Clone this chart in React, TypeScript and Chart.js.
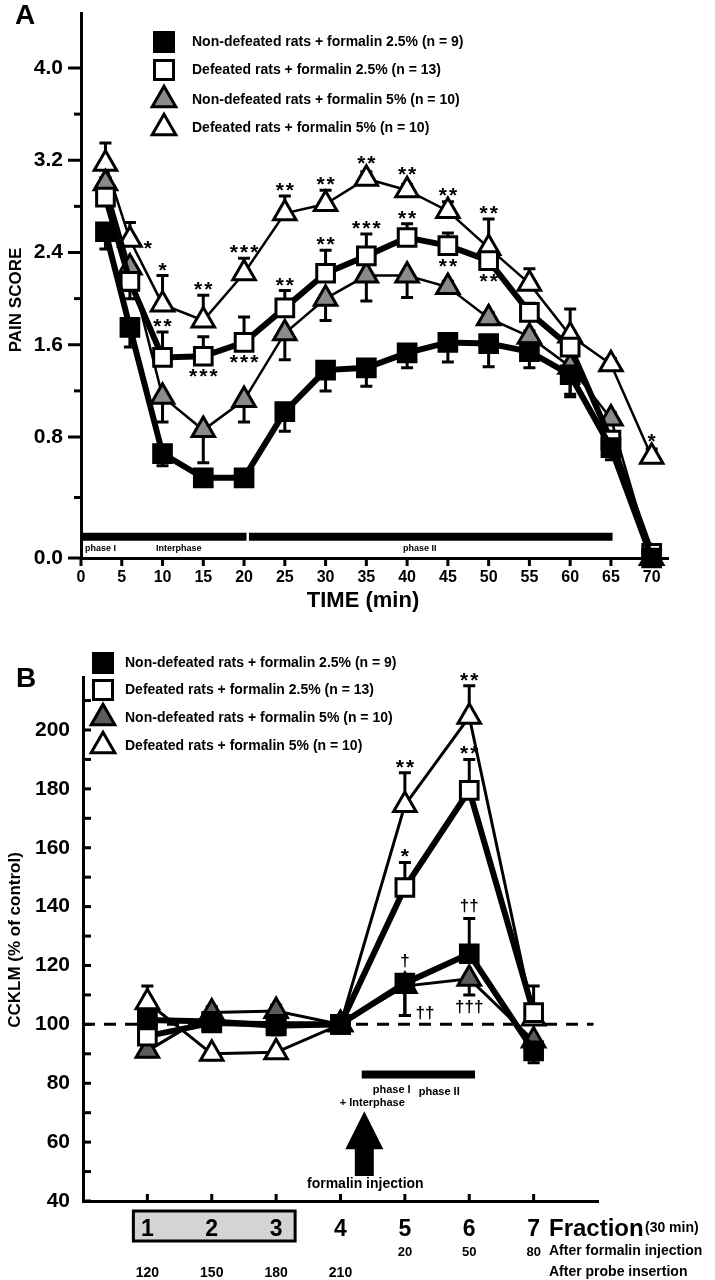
import React, { useEffect, useRef } from 'react';
import { Chart, registerables, LinearScale } from 'chart.js';

// Linear scale with a knee: the segment below `knee` gets its own share of the axis height
class KneeScale extends LinearScale {
  static id = 'knee';
  static defaults: any = { ...(LinearScale as any).defaults };
  kneePixel(): number {
    const o: any = this.options;
    return this.bottom - o.kneeFraction * (this.bottom - this.top);
  }
  getPixelForValue(value: number): number {
    const o: any = this.options;
    const kp = this.kneePixel();
    if (value >= o.knee) return kp - ((value - o.knee) / (this.max - o.knee)) * (kp - this.top);
    return this.bottom - ((value - this.min) / (o.knee - this.min)) * (this.bottom - kp);
  }
  getValueForPixel(pixel: number): number {
    const o: any = this.options;
    const kp = this.kneePixel();
    if (pixel <= kp) return o.knee + ((kp - pixel) / (kp - this.top)) * (this.max - o.knee);
    return this.min + ((this.bottom - pixel) / (this.bottom - kp)) * (o.knee - this.min);
  }
}

Chart.register(...registerables, KneeScale);

const FONT = '"Liberation Sans", Arial, Helvetica, sans-serif';
const GRAY_A = '#8a8a8a';
const GRAY_B = '#5c5c5c';

// ================= Panel A : pain score =================
const aTime = [3, 6, 10, 15, 20, 25, 30, 35, 40, 45, 50, 55, 60, 65, 70];
const aXTicks = [0, 5, 10, 15, 20, 25, 30, 35, 40, 45, 50, 55, 60, 65, 70];
const aYTicks = [0, 0.4, 0.8, 1.2, 1.6, 2.0, 2.4, 2.8, 3.2, 3.6, 4.0];
const aYLabels = ['0.0', '', '0.8', '', '1.6', '', '2.4', '', '3.2', '', '4.0'];

const aNonDef25 = [2.58, 1.75, 0.69, 0.53, 0.53, 1.02, 1.38, 1.40, 1.53, 1.62, 1.61, 1.54, 1.34, 0.73, 0.0];
const aNonDef25Sem = [-0.15, -0.17, -0.08, -0.05, -0.05, -0.17, -0.18, -0.16, -0.13, -0.17, -0.2, -0.14, -0.19, -0.08, 0];
const aDef25 = [2.88, 2.15, 1.49, 1.5, 1.62, 1.92, 2.22, 2.37, 2.53, 2.46, 2.33, 1.88, 1.58, 0.78, 0.03];
const aDef25Sem = [0.05, -0.15, 0.22, 0.17, 0.22, 0.15, 0.2, 0.19, 0.12, 0.11, 0.1, 0.08, 0.1, -0.1, 0];
const aNonDef5 = [3.0, 2.27, 1.15, 0.86, 1.12, 1.7, 2.0, 2.2, 2.2, 2.1, 1.83, 1.67, 1.41, 0.96, 0.0];
const aNonDef5Sem = [0.05, -0.2, -0.22, -0.23, -0.19, -0.23, -0.19, -0.22, -0.19, 0.05, 0.05, 0.05, -0.24, 0.05, 0];
const aDef5 = [3.17, 2.51, 1.95, 1.81, 2.22, 2.74, 2.82, 3.04, 2.94, 2.76, 2.44, 2.13, 1.68, 1.43, 0.67];
const aDef5Sem = [0.18, 0.15, 0.25, 0.22, 0.13, 0.15, 0.12, 0.06, 0.05, 0.08, 0.25, 0.13, 0.23, 0.05, 0.05];

type Mark = { i: number; text: string; side: 'above' | 'below' | 'right' | 'belowRight' };
const aDef5Marks: Mark[] = [
  { i: 1, text: '*', side: 'right' },
  { i: 2, text: '*', side: 'above' },
  { i: 3, text: '**', side: 'above' },
  { i: 4, text: '***', side: 'above' },
  { i: 5, text: '**', side: 'above' },
  { i: 6, text: '**', side: 'above' },
  { i: 7, text: '**', side: 'above' },
  { i: 8, text: '**', side: 'above' },
  { i: 9, text: '**', side: 'above' },
  { i: 10, text: '**', side: 'above' },
  { i: 14, text: '*', side: 'above' },
];
const aDef25Marks: Mark[] = [
  { i: 2, text: '**', side: 'above' },
  { i: 3, text: '***', side: 'below' },
  { i: 4, text: '***', side: 'below' },
  { i: 5, text: '**', side: 'above' },
  { i: 6, text: '**', side: 'above' },
  { i: 7, text: '***', side: 'above' },
  { i: 8, text: '**', side: 'above' },
  { i: 9, text: '**', side: 'below' },
  { i: 10, text: '**', side: 'below' },
];
// phase bar segments (minutes) and labels
const aPhaseBars = [[0, 20.3], [20.6, 65.2]];
const aPhaseY = 0.14;
const aPhaseLabels = [
  { t: 'phase I', x: 0.5 },
  { t: 'Interphase', x: 9.2 },
  { t: 'phase II', x: 39.5 },
];

// ================= Panel B : CCKLM =================
const bFraction = [1, 2, 3, 4, 5, 6, 7];
const bYTicks = [40, 50, 60, 70, 80, 90, 100, 110, 120, 130, 140, 150, 160, 170, 180, 190, 200, 210];
const bFracLabels = ['1', '2', '3', '4', '5', '6', '7'];
const bAfterInjection = ['', '', '', '', '20', '50', '80'];
const bAfterProbe = ['120', '150', '180', '210', '', '', ''];

const bNonDef25 = [101.5, 101, 99.5, 100, 114, 124, 91];
const bNonDef25Sem = [3, 3, -3, 2, -11, 12, -4];
const bDef25 = [96, 100.5, 100, 100, 146.5, 179.5, 104];
const bDef25Sem = [-4, 2, 2, 2, 8.5, 10.5, 9];
const bNonDef5 = [91, 104, 104.5, 100, 113, 115.5, 94.5];
const bNonDef5Sem = [-2, 2, 2, 2, -10, -5.5, -3];
const bDef5 = [107.5, 90, 90.5, 100, 174.5, 204.5, 102];
const bDef5Sem = [5.5, -2, -2, 2, 11, 10.5, 2];

const bDef5Marks: Mark[] = [
  { i: 4, text: '**', side: 'above' },
  { i: 5, text: '**', side: 'above' },
];
const bDef25Marks: Mark[] = [
  { i: 4, text: '*', side: 'above' },
  { i: 5, text: '**', side: 'above' },
];
const bNonDef25Marks: Mark[] = [
  { i: 4, text: '†', side: 'above' },
  { i: 5, text: '††', side: 'above' },
];
const bNonDef5Marks: Mark[] = [
  { i: 4, text: '††', side: 'belowRight' },
  { i: 5, text: '†††', side: 'below' },
];
const bPhaseBar = [4.33, 6.09];
const bPhaseY = 83;
const bArrow = { x: 4.37, from: 48.5, to: 70.5 };

const legendTexts = [
  'Non-defeated rats + formalin 2.5% (n = 9)',
  'Defeated rats + formalin 2.5% (n = 13)',
  'Non-defeated rats + formalin 5% (n = 10)',
  'Defeated rats + formalin 5% (n = 10)',
];

// ================= helpers =================
function font(size: number) {
  return `bold ${size}px ${FONT}`;
}
function textAt(ctx: CanvasRenderingContext2D, text: string, x: number, cy: number, size: number, align: CanvasTextAlign = 'center', spacing = 0) {
  ctx.save();
  ctx.font = font(size);
  (ctx as any).letterSpacing = spacing ? `${spacing}px` : '0px';
  ctx.textAlign = align;
  ctx.textBaseline = 'alphabetic';
  ctx.fillStyle = '#000';
  const m = ctx.measureText(text);
  const base = cy + (m.actualBoundingBoxAscent - m.actualBoundingBoxDescent) / 2;
  const dx = align === 'center' && spacing ? spacing / 2 : 0;
  ctx.fillText(text, x + dx, base);
  ctx.restore();
}
function drawMarker(ctx: CanvasRenderingContext2D, kind: string, x: number, y: number, fill: string, size: number) {
  ctx.save();
  ctx.lineWidth = 3;
  ctx.strokeStyle = '#000';
  ctx.fillStyle = fill;
  ctx.beginPath();
  if (kind === 'rect') {
    ctx.rect(x - size / 2, y - size / 2, size, size);
  } else {
    const r = size * 0.62;
    ctx.moveTo(x, y - r);
    ctx.lineTo(x + r * 0.866, y + r / 2);
    ctx.lineTo(x - r * 0.866, y + r / 2);
    ctx.closePath();
  }
  ctx.fill();
  ctx.stroke();
  ctx.restore();
}

const errorBarPlugin = {
  id: 'errbars',
  beforeDatasetsDraw(chart: any) {
    const ctx = chart.ctx;
    const xs = chart.scales.x;
    const ys = chart.scales.y;
    chart.data.datasets.forEach((ds: any) => {
      if (!ds.sem) return;
      ds.data.forEach((p: any, i: number) => {
        const e = ds.sem[i];
        if (!e) return;
        const x = xs.getPixelForValue(p.x);
        const y0 = ys.getPixelForValue(p.y);
        const y1 = ys.getPixelForValue(p.y + e);
        ctx.save();
        ctx.strokeStyle = '#000';
        ctx.lineWidth = 3;
        ctx.beginPath();
        ctx.moveTo(x, y0);
        ctx.lineTo(x, y1);
        ctx.moveTo(x - 6, y1);
        ctx.lineTo(x + 6, y1);
        ctx.stroke();
        ctx.restore();
      });
    });
  },
};

const marksPlugin = {
  id: 'marks',
  afterDatasetsDraw(chart: any) {
    const ctx = chart.ctx;
    const xs = chart.scales.x;
    const ys = chart.scales.y;
    chart.data.datasets.forEach((ds: any) => {
      if (!ds.marks) return;
      ds.marks.forEach((m: Mark) => {
        const p = ds.data[m.i];
        const e = ds.sem ? ds.sem[m.i] : 0;
        const x = xs.getPixelForValue(p.x);
        const y = ys.getPixelForValue(p.y);
        const dagger = m.text.includes('†');
        const size = dagger ? 17 : 21;
        const sp = dagger ? 0 : 2;
        const gap = dagger ? 12 : 9;
        if (m.side === 'above') {
          const cap = e > 0 ? ys.getPixelForValue(p.y + e) : y - 10;
          textAt(ctx, m.text, x, Math.min(cap, y - 10) - gap, size, 'center', sp);
        } else if (m.side === 'below') {
          const cap = e < 0 ? ys.getPixelForValue(p.y + e) : y + 8;
          textAt(ctx, m.text, x, Math.max(cap, y + 8) + gap, size, 'center', sp);
        } else if (m.side === 'right') {
          textAt(ctx, m.text, x + 18, y + 5, size, 'center', sp);
        } else {
          textAt(ctx, m.text, x + 20, y + 27, size, 'center', sp);
        }
      });
    });
  },
};

function series(xs: number[], ys: number[]) {
  return xs.map((x, i) => ({ x, y: ys[i] }));
}
function noPad(s: any) {
  s.paddingTop = 0;
  s.paddingBottom = 0;
  s.paddingLeft = 0;
  s.paddingRight = 0;
}

function configA(): any {
  const datasets: any[] = [
    {
      data: series(aTime, aNonDef25), sem: aNonDef25Sem,
      borderColor: '#000', borderWidth: 6, pointStyle: 'rect', pointRadius: 12.5,
      pointBackgroundColor: '#000', pointBorderColor: '#000', pointBorderWidth: 3,
    },
    {
      data: series(aTime, aDef25), sem: aDef25Sem, marks: aDef25Marks,
      borderColor: '#000', borderWidth: 6, pointStyle: 'rect', pointRadius: 12.5,
      pointBackgroundColor: '#fff', pointBorderColor: '#000', pointBorderWidth: 3,
    },
    {
      data: series(aTime, aNonDef5), sem: aNonDef5Sem,
      borderColor: '#000', borderWidth: 2.5, pointStyle: 'triangle', pointRadius: 13,
      pointBackgroundColor: GRAY_A, pointBorderColor: '#000', pointBorderWidth: 3,
    },
    {
      data: series(aTime, aDef5), sem: aDef5Sem, marks: aDef5Marks,
      borderColor: '#000', borderWidth: 2.5, pointStyle: 'triangle', pointRadius: 13,
      pointBackgroundColor: '#fff', pointBorderColor: '#000', pointBorderWidth: 3,
    },
  ];
  aPhaseBars.forEach((seg) => {
    datasets.push({
      data: [{ x: seg[0], y: aPhaseY }, { x: seg[1], y: aPhaseY }],
      borderColor: '#000', borderWidth: 8, pointRadius: 0, borderCapStyle: 'butt',
    });
  });
  datasets.forEach((d) => { d.clip = false; d.tension = 0; });

  const extras = {
    id: 'extrasA',
    afterDraw(chart: any) {
      const ctx = chart.ctx;
      const xs = chart.scales.x;
      const ys = chart.scales.y;
      const left = chart.chartArea.left;
      const bottom = chart.chartArea.bottom;
      ctx.save();
      ctx.strokeStyle = '#000';
      ctx.lineWidth = 3;
      aYTicks.forEach((v, i) => {
        const y = ys.getPixelForValue(v);
        const len = aYLabels[i] ? 13 : 7;
        ctx.beginPath();
        ctx.moveTo(left - len, y);
        ctx.lineTo(left, y);
        ctx.stroke();
      });
      aXTicks.forEach((v) => {
        const x = xs.getPixelForValue(v);
        ctx.beginPath();
        ctx.moveTo(x, bottom);
        ctx.lineTo(x, bottom + 8);
        ctx.stroke();
      });
      ctx.restore();
      aPhaseLabels.forEach((l) => textAt(ctx, l.t, xs.getPixelForValue(l.x), ys.getPixelForValue(aPhaseY) + 12, 9, 'left'));
      textAt(ctx, 'A', 15, 14, 28, 'left');
      textAt(ctx, 'TIME (min)', 363, 601, 22);
      ctx.save();
      ctx.translate(15, 300);
      ctx.rotate(-Math.PI / 2);
      textAt(ctx, 'PAIN SCORE', 0, 0, 17);
      ctx.restore();
      const kinds = ['rect', 'rect', 'triangle', 'triangle'];
      const fills = ['#000', '#fff', GRAY_A, '#fff'];
      const rows = [42, 70, 100, 128];
      rows.forEach((y, i) => {
        drawMarker(ctx, kinds[i], 164, y, fills[i], kinds[i] === 'rect' ? 19 : 22);
        textAt(ctx, legendTexts[i], 192, y, 14, 'left');
      });
    },
  };

  return {
    type: 'line',
    data: { datasets },
    options: {
      animation: false,
      responsive: false,
      devicePixelRatio: 1,
      layout: { autoPadding: false, padding: { top: 13, right: 47, left: 0, bottom: 0 } },
      plugins: { legend: { display: false }, tooltip: { enabled: false } },
      scales: {
        x: {
          type: 'linear', min: 0, max: 72,
          afterFit: (s: any) => { s.height = 640 - 558; noPad(s); },
          afterBuildTicks: (s: any) => { s.ticks = aXTicks.map((v) => ({ value: v })); },
          ticks: { autoSkip: false, maxRotation: 0, color: '#000', font: { family: FONT, size: 16, weight: 'bold' }, padding: 10 },
          grid: { drawOnChartArea: false, drawTicks: false },
          border: { display: true, color: '#000', width: 3 },
        },
        y: {
          type: 'knee', min: 0, max: 4.477, knee: 0.8, kneeFraction: 121 / 545,
          afterFit: (s: any) => { s.width = 81; noPad(s); },
          afterBuildTicks: (s: any) => { s.ticks = aYTicks.map((v) => ({ value: v })); },
          ticks: {
            autoSkip: false, color: '#000', font: { family: FONT, size: 21, weight: 'bold' }, padding: 18,
            callback: (_v: any, i: number) => aYLabels[i],
          },
          grid: { drawOnChartArea: false, drawTicks: false },
          border: { display: true, color: '#000', width: 3 },
        },
      },
    },
    plugins: [errorBarPlugin, marksPlugin, extras],
  };
}

function configB(): any {
  const datasets: any[] = [
    {
      data: series(bFraction, bNonDef25), sem: bNonDef25Sem, marks: bNonDef25Marks,
      borderColor: '#000', borderWidth: 6, pointStyle: 'rect', pointRadius: 12.5,
      pointBackgroundColor: '#000', pointBorderColor: '#000', pointBorderWidth: 3,
    },
    {
      data: series(bFraction, bDef25), sem: bDef25Sem, marks: bDef25Marks,
      borderColor: '#000', borderWidth: 6, pointStyle: 'rect', pointRadius: 12.5,
      pointBackgroundColor: '#fff', pointBorderColor: '#000', pointBorderWidth: 3,
    },
    {
      data: series(bFraction, bNonDef5), sem: bNonDef5Sem, marks: bNonDef5Marks,
      borderColor: '#000', borderWidth: 3, pointStyle: 'triangle', pointRadius: 13,
      pointBackgroundColor: GRAY_B, pointBorderColor: '#000', pointBorderWidth: 3,
    },
    {
      data: series(bFraction, bDef5), sem: bDef5Sem, marks: bDef5Marks,
      borderColor: '#000', borderWidth: 3, pointStyle: 'triangle', pointRadius: 13,
      pointBackgroundColor: '#fff', pointBorderColor: '#000', pointBorderWidth: 3,
    },
    {
      data: [{ x: 0, y: 100 }, { x: 7.93, y: 100 }],
      borderColor: '#000', borderWidth: 3, borderDash: [12, 9], pointRadius: 0,
    },
    {
      data: [{ x: bPhaseBar[0], y: bPhaseY }, { x: bPhaseBar[1], y: bPhaseY }],
      borderColor: '#000', borderWidth: 8, pointRadius: 0, borderCapStyle: 'butt',
    },
  ];
  datasets.forEach((d) => { d.clip = false; d.tension = 0; });

  const extras = {
    id: 'extrasB',
    afterDraw(chart: any) {
      const ctx = chart.ctx;
      const xs = chart.scales.x;
      const ys = chart.scales.y;
      const left = chart.chartArea.left;
      const bottom = chart.chartArea.bottom;
      ctx.save();
      ctx.strokeStyle = '#000';
      ctx.lineWidth = 3;
      bYTicks.forEach((v) => {
        const y = ys.getPixelForValue(v);
        ctx.beginPath();
        ctx.moveTo(left, y);
        ctx.lineTo(left + 8, y);
        ctx.stroke();
      });
      bFraction.forEach((v) => {
        const x = xs.getPixelForValue(v);
        ctx.beginPath();
        ctx.moveTo(x, bottom);
        ctx.lineTo(x, bottom - 7);
        ctx.stroke();
      });
      const ax = xs.getPixelForValue(bArrow.x);
      const yb = ys.getPixelForValue(bArrow.from);
      const yt = ys.getPixelForValue(bArrow.to);
      ctx.fillStyle = '#000';
      ctx.beginPath();
      ctx.moveTo(ax - 9.5, yb);
      ctx.lineTo(ax + 9.5, yb);
      ctx.lineTo(ax + 9.5, yt + 38);
      ctx.lineTo(ax + 19, yt + 38);
      ctx.lineTo(ax, yt);
      ctx.lineTo(ax - 19, yt + 38);
      ctx.lineTo(ax - 9.5, yt + 38);
      ctx.closePath();
      ctx.fill();
      const x1 = xs.getPixelForValue(1);
      const x3 = xs.getPixelForValue(3);
      ctx.fillStyle = '#d4d4d4';
      ctx.fillRect(x1 - 14, bottom + 10, x3 - x1 + 33, 30);
      ctx.strokeRect(x1 - 14, bottom + 10, x3 - x1 + 33, 30);
      ctx.restore();

      bFraction.forEach((v, i) => {
        const x = xs.getPixelForValue(v);
        textAt(ctx, bFracLabels[i], x, bottom + 26, 23);
        if (bAfterInjection[i]) textAt(ctx, bAfterInjection[i], x, bottom + 50, 13);
        if (bAfterProbe[i]) textAt(ctx, bAfterProbe[i], x, bottom + 71, 14);
      });
      textAt(ctx, 'Fraction', 549, bottom + 26, 24, 'left');
      textAt(ctx, '(30 min)', 645, bottom + 27, 14, 'left');
      textAt(ctx, 'After formalin injection', 549, bottom + 50, 14, 'left');
      textAt(ctx, 'After probe insertion', 549, bottom + 71, 14, 'left');
      textAt(ctx, 'formalin injection', ax + 1, ys.getPixelForValue(bArrow.from) + 8, 14);
      const py = ys.getPixelForValue(bPhaseY);
      textAt(ctx, 'phase I', xs.getPixelForValue(bPhaseBar[0]) + 11, py + 16, 11, 'left');
      textAt(ctx, '+ Interphase', xs.getPixelForValue(bPhaseBar[0]) - 22, py + 29, 11, 'left');
      textAt(ctx, 'phase II', xs.getPixelForValue(bPhaseBar[0]) + 57, py + 18, 11, 'left');

      textAt(ctx, 'B', 16, 37, 28, 'left');
      ctx.save();
      ctx.translate(15, 300);
      ctx.rotate(-Math.PI / 2);
      textAt(ctx, 'CCKLM (% of control)', 0, 0, 17);
      ctx.restore();
      const kinds = ['rect', 'rect', 'triangle', 'triangle'];
      const fills = ['#000', '#fff', GRAY_B, '#fff'];
      const rows = [23, 50, 78, 106];
      rows.forEach((y, i) => {
        drawMarker(ctx, kinds[i], 103, y, fills[i], kinds[i] === 'rect' ? 19 : 22);
        textAt(ctx, legendTexts[i], 125, y, 14, 'left');
      });
    },
  };

  return {
    type: 'line',
    data: { datasets },
    options: {
      animation: false,
      responsive: false,
      devicePixelRatio: 1,
      layout: { autoPadding: false, padding: { top: 37, right: 117, left: 0, bottom: 0 } },
      plugins: { legend: { display: false }, tooltip: { enabled: false } },
      scales: {
        x: {
          type: 'linear', min: 0, max: 8,
          afterFit: (s: any) => { s.height = 640 - 561; noPad(s); },
          ticks: { display: false },
          grid: { display: false, drawTicks: false },
          border: { display: true, color: '#000', width: 3 },
        },
        y: {
          type: 'linear', min: 40, max: 218,
          afterFit: (s: any) => { s.width = 83; noPad(s); },
          afterBuildTicks: (s: any) => { s.ticks = bYTicks.map((v) => ({ value: v })); },
          ticks: {
            autoSkip: false, color: '#000', font: { family: FONT, size: 21, weight: 'bold' }, padding: 13,
            callback: (v: any) => (v % 20 === 0 ? String(v) : ''),
          },
          grid: { drawOnChartArea: false, drawTicks: false },
          border: { display: true, color: '#000', width: 3 },
        },
      },
    },
    plugins: [errorBarPlugin, marksPlugin, extras],
  };
}

export default function App() {
  const refA = useRef<HTMLCanvasElement>(null);
  const refB = useRef<HTMLCanvasElement>(null);
  useEffect(() => {
    document.body.style.margin = '0';
    const a = new Chart(refA.current as HTMLCanvasElement, configA());
    const b = new Chart(refB.current as HTMLCanvasElement, configB());
    return () => {
      a.destroy();
      b.destroy();
    };
  }, []);
  return (
    <div style={{ position: 'relative', width: 715, height: 1280, background: '#fff' }}>
      <canvas ref={refA} width={715} height={640} style={{ position: 'absolute', left: 0, top: 0 }} />
      <canvas ref={refB} width={715} height={640} style={{ position: 'absolute', left: 0, top: 640 }} />
    </div>
  );
}
